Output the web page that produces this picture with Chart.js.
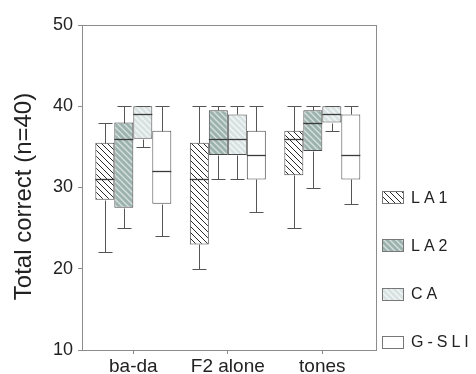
<!DOCTYPE html>
<html>
<head>
<meta charset="utf-8">
<script src="https://cdn.jsdelivr.net/npm/chart.js@4/dist/chart.umd.min.js"></script>
<style>
  html, body { margin: 0; padding: 0; background: #ffffff; }
  #wrap { width: 476px; height: 374px; }
</style>
</head>
<body>
<div id="wrap"><canvas id="c" width="476" height="374"></canvas></div>
<script>
// ---- data ----
const categories = ['ba-da', 'F2 alone', 'tones'];
const seriesNames = ['LA1', 'LA2', 'CA', 'G-SLI'];
const yTicks = [10, 20, 30, 40, 50];
const yTitle = 'Total correct (n=40)';
// each entry: [whisker low, Q1, median, Q3, whisker high] per category
const LA1  = [[22, 28.5, 31, 35.5, 38], [20, 23, 31, 35.5, 40], [25, 31.5, 36, 37, 40]];
const LA2  = [[25, 27.5, 36, 38, 40],   [31, 34, 36, 39.5, 40], [30, 34.5, 38, 39.5, 40]];
const CA   = [[35, 36, 39, 40, 40],     [31, 34, 36, 39, 40],   [37, 38, 39, 40, 40]];
const GSLI = [[24, 28, 32, 37, 40],     [27, 31, 34, 37, 40],   [28, 31, 34, 39, 40]];
const seriesData = [LA1, LA2, CA, GSLI];

// ---- hatch patterns ----
function makePattern(bg, line, lw, size) {
  const c = document.createElement('canvas');
  c.width = size; c.height = size;
  const g = c.getContext('2d');
  g.fillStyle = bg; g.fillRect(0, 0, size, size);
  if (line) {
    g.strokeStyle = line; g.lineWidth = lw;
    g.beginPath();
    g.moveTo(-1, -1); g.lineTo(size + 1, size + 1);
    g.moveTo(-1, size - 1); g.lineTo(1, size + 1);
    g.moveTo(size - 1, -1); g.lineTo(size + 1, 1);
    g.stroke();
  }
  return g.createPattern(c, 'repeat');
}
const fills = [
  makePattern('#ffffff', '#2a2a2a', 1, 6),
  makePattern('#9cb2ad', '#d6e0de', 1.4, 6),
  makePattern('#d8e2e2', '#f3f6f6', 1.4, 6),
  makePattern('#ffffff', null, 0, 6)
];

const datasets = seriesNames.map((name, s) => ({
  label: name,
  data: seriesData[s].map((v, i) => ({ x: i + 1, y: [v[1], v[3]] })),
  backgroundColor: fills[s],
  borderColor: '#4a4a4a',
  borderWidth: 1,
  borderSkipped: false,
  categoryPercentage: 0.804,
  barPercentage: 1.0
}));

const FONT = '"Liberation Sans", Arial, Helvetica, sans-serif';

// whiskers + medians
const boxPlotPlugin = {
  id: 'boxparts',
  afterDatasetsDraw(chart) {
    const ctx = chart.ctx;
    const ys = chart.scales.y;
    ctx.save();
    ctx.lineWidth = 1;
    chart.data.datasets.forEach((ds, s) => {
      const meta = chart.getDatasetMeta(s);
      meta.data.forEach((bar, i) => {
        const v = seriesData[s][i];
        const x = Math.round(bar.x) + 0.5;
        const half = bar.width / 2;
        const cap = bar.width * 0.37;
        const pLo = Math.round(ys.getPixelForValue(v[0])) + 0.5;
        const pQ1 = Math.round(ys.getPixelForValue(v[1])) + 0.5;
        const pMed = Math.round(ys.getPixelForValue(v[2])) + 0.5;
        const pQ3 = Math.round(ys.getPixelForValue(v[3])) + 0.5;
        const pHi = Math.round(ys.getPixelForValue(v[4])) + 0.5;
        ctx.strokeStyle = '#555555';
        ctx.beginPath();
        ctx.moveTo(x, pQ1); ctx.lineTo(x, pLo);
        ctx.moveTo(x - cap, pLo); ctx.lineTo(x + cap, pLo);
        ctx.moveTo(x, pQ3); ctx.lineTo(x, pHi);
        ctx.moveTo(x - cap, pHi); ctx.lineTo(x + cap, pHi);
        ctx.stroke();
        ctx.strokeStyle = '#3a3a3a';
        ctx.lineWidth = 1.3;
        ctx.beginPath();
        ctx.moveTo(bar.x - half, pMed); ctx.lineTo(bar.x + half, pMed);
        ctx.stroke();
        ctx.lineWidth = 1;
      });
    });
    ctx.restore();
  }
};

// frame around plot area
const framePlugin = {
  id: 'frame',
  beforeDatasetsDraw(chart) {
    const a = chart.chartArea, ctx = chart.ctx;
    ctx.save();
    ctx.strokeStyle = '#8c8c8c';
    ctx.lineWidth = 1;
    ctx.strokeRect(Math.round(a.left) + 0.5, Math.round(a.top) + 0.5,
                   Math.round(a.right - a.left), Math.round(a.bottom - a.top));
    ctx.restore();
  }
};

// y-axis title and right-hand legend
const textPlugin = {
  id: 'texts',
  afterDraw(chart) {
    const a = chart.chartArea, ctx = chart.ctx;
    ctx.save();
    // title
    ctx.translate(24, (a.top + a.bottom) / 2 + 9);
    ctx.rotate(-Math.PI / 2);
    ctx.font = '24px ' + FONT;
    ctx.fillStyle = '#222222';
    ctx.textAlign = 'center';
    ctx.textBaseline = 'middle';
    ctx.fillText(yTitle, 0, 0);
    ctx.restore();

    // legend
    ctx.save();
    ctx.font = '16px ' + FONT;
    ctx.fillStyle = '#222222';
    ctx.textBaseline = 'middle';
    ctx.textAlign = 'left';
    if ('letterSpacing' in ctx) ctx.letterSpacing = '4px';
    chart.data.datasets.forEach((ds, s) => {
      const cy = a.bottom - 8 - (seriesNames.length - 1 - s) * 48.3;
      const bx = a.right + 6, bw = 21, bh = 12;
      ctx.fillStyle = ds.backgroundColor;
      ctx.fillRect(bx, Math.round(cy - bh / 2), bw, bh);
      ctx.strokeStyle = '#777777';
      ctx.lineWidth = 1;
      ctx.strokeRect(bx + 0.5, Math.round(cy - bh / 2) + 0.5, bw, bh);
      ctx.fillStyle = '#222222';
      ctx.fillText(ds.label, bx + 29, cy + 1);
    });
    ctx.restore();
  }
};

new Chart(document.getElementById('c'), {
  type: 'bar',
  data: { datasets },
  options: {
    responsive: false,
    animation: false,
    devicePixelRatio: 1,
    layout: { padding: { top: 25, right: 100, left: 0, bottom: 0 } },
    plugins: { legend: { display: false }, tooltip: { enabled: false } },
    scales: {
      x: {
        type: 'linear',
        min: 0.457,
        max: 3.568,
        offset: false,
        afterFit(scale) { scale.height = 24; },
        grid: { display: true, offset: false, drawOnChartArea: false, drawTicks: true, tickLength: 4, color: '#8c8c8c' },
        border: { display: true, color: '#8c8c8c' },
        ticks: {
          stepSize: 1,
          includeBounds: false,
          autoSkip: false,
          maxRotation: 0,
          padding: 1,
          color: '#222222',
          font: { family: FONT, size: 19 },
          callback: (v) => (Number.isInteger(v) && categories[v - 1] !== undefined) ? categories[v - 1] : ''
        }
      },
      y: {
        min: yTicks[0],
        max: yTicks[yTicks.length - 1],
        afterFit(scale) { scale.width = 82; },
        afterBuildTicks(scale) { scale.ticks = yTicks.map(v => ({ value: v })); },
        grid: { display: true, drawOnChartArea: false, drawTicks: true, tickLength: 4, color: '#8c8c8c' },
        border: { display: true, color: '#8c8c8c' },
        ticks: {
          padding: 5,
          color: '#222222',
          font: { family: FONT, size: 18 }
        }
      }
    }
  },
  plugins: [framePlugin, boxPlotPlugin, textPlugin]
});
</script>
</body>
</html>
